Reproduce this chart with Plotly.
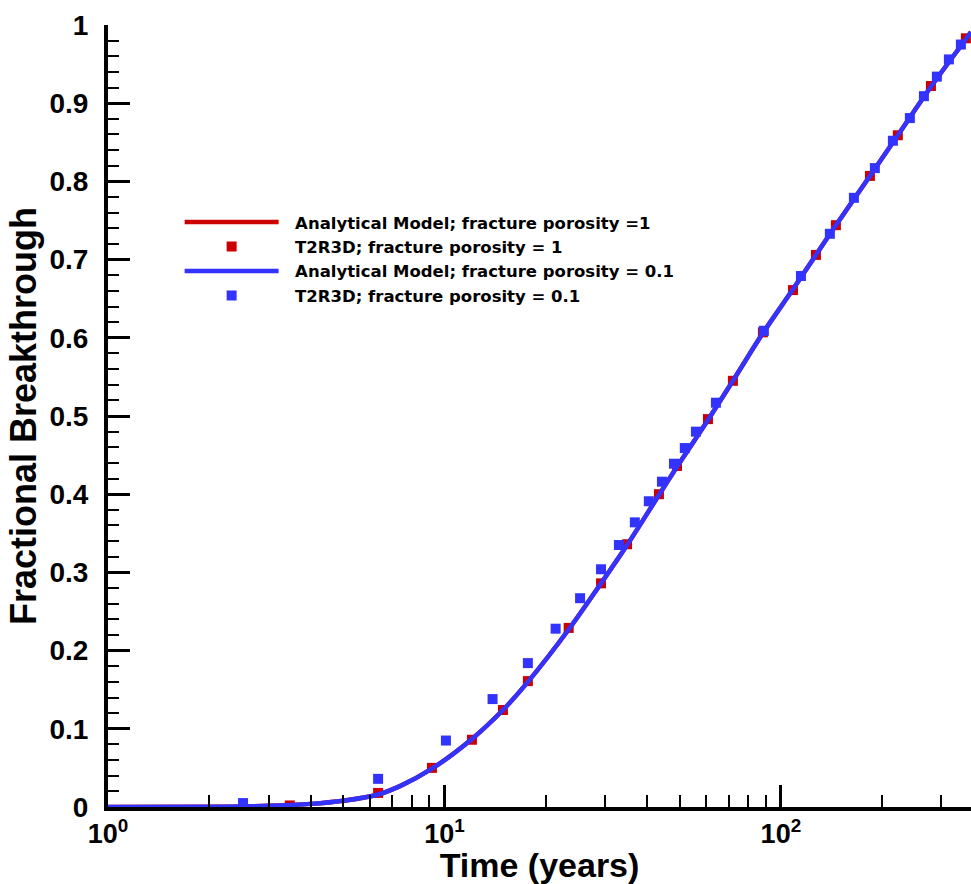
import plotly.graph_objects as go

# Analytical model curves
analytic_t = [1.0, 2.0, 3.0, 4.0, 5.0, 6.35, 7.4, 9.18, 12.07, 14.92, 17.7, 23.4, 29.2,
              34.9, 43.4, 49.1, 60.7, 72.0, 88.4, 108.6, 127.1, 145.7, 183.9, 222.6,
              279.2, 354.6, 367.0]
analytic_phi1 = [0.0, 0.0003, 0.0015, 0.004, 0.008, 0.016, 0.027, 0.049, 0.087, 0.124, 0.160,
                 0.227, 0.286, 0.335, 0.399, 0.435, 0.495, 0.545, 0.606, 0.662, 0.706,
                 0.744, 0.807, 0.859, 0.921, 0.982, 0.991]
analytic_phi01 = [0.0, 0.0003, 0.0015, 0.004, 0.008, 0.016, 0.027, 0.049, 0.087, 0.124, 0.160,
                  0.227, 0.286, 0.335, 0.399, 0.435, 0.495, 0.545, 0.606, 0.662, 0.706,
                  0.744, 0.807, 0.859, 0.921, 0.982, 0.991]

# T2R3D, fracture porosity = 1
t2_phi1_t = [3.47, 6.35, 9.18, 12.07, 14.92, 17.7, 23.4, 29.2, 34.9, 43.4, 49.1, 60.7,
             72.0, 88.4, 108.6, 127.1, 145.7, 183.9, 222.6, 279.2, 354.6]
t2_phi1_y = [0.002, 0.018, 0.050, 0.086, 0.124, 0.161, 0.229, 0.286, 0.336, 0.400, 0.436,
             0.496, 0.545, 0.607, 0.661, 0.706, 0.744, 0.807, 0.859, 0.922, 0.983]

# T2R3D, fracture porosity = 0.1
t2_phi01_t = [2.52, 6.35, 10.1, 13.9, 17.7, 21.4, 25.3, 29.2, 33.0, 36.8, 40.5, 44.3,
              48.1, 51.8, 55.9, 64.1, 89.0, 114.7, 139.8, 164.8, 190.2, 215.2, 241.7,
              266.1, 290.8, 315.7, 342.7]
t2_phi01_y = [0.005, 0.036, 0.085, 0.138, 0.184, 0.228, 0.267, 0.304, 0.335, 0.364, 0.391,
              0.416, 0.439, 0.459, 0.480, 0.517, 0.609, 0.679, 0.733, 0.779, 0.817, 0.852,
              0.881, 0.909, 0.934, 0.956, 0.975]

x_tickvals = [1, 10, 100]
x_ticktext = ["10<sup>0</sup>", "10<sup>1</sup>", "10<sup>2</sup>"]

legend_names = ["Analytical Model; fracture porosity =1",
                "T2R3D; fracture porosity = 1",
                "Analytical Model; fracture porosity = 0.1",
                "T2R3D; fracture porosity = 0.1"]

RED = "#CC0000"
BLUE = "#3333FF"
FONT = "Liberation Sans, Arial, sans-serif"
LEGEND_FONT = "DejaVu Sans, Liberation Sans, Arial, sans-serif"
PAD = "\u00a0\u00a0"

fig = go.Figure()
fig.add_trace(go.Scatter(x=analytic_t, y=analytic_phi1, mode="lines", line_shape="spline",
                         line=dict(color=RED, width=4.5), name=PAD + legend_names[0]))
fig.add_trace(go.Scatter(x=t2_phi1_t, y=t2_phi1_y, mode="markers",
                         marker=dict(symbol="square", size=10, color=RED),
                         name=PAD + legend_names[1]))
fig.add_trace(go.Scatter(x=analytic_t, y=analytic_phi01, mode="lines", line_shape="spline",
                         line=dict(color=BLUE, width=4.5), name=PAD + legend_names[2]))
fig.add_trace(go.Scatter(x=t2_phi01_t, y=t2_phi01_y, mode="markers",
                         marker=dict(symbol="square", size=10, color=BLUE),
                         name=PAD + legend_names[3]))

fig.update_layout(
    width=971, height=884,
    margin=dict(l=108, r=0, t=25, b=77),
    paper_bgcolor="white", plot_bgcolor="white",
    font=dict(family=FONT, color="black"),
    showlegend=True,
    legend=dict(x=0.083, y=0.770, xanchor="left", yanchor="top",
                font=dict(family=LEGEND_FONT, size=16.5, weight="bold", color="black"),
                itemwidth=94, bgcolor="rgba(0,0,0,0)", tracegroupgap=0),
    xaxis=dict(type="log", range=[0, 2.565], showgrid=False, zeroline=False,
               showline=True, linewidth=4, linecolor="black",
               ticks="inside", ticklen=22, tickwidth=3, tickcolor="black",
               tickvals=x_tickvals, ticktext=x_ticktext,
               tickfont=dict(family=FONT, size=27, weight="bold"),
               minor=dict(ticks="inside", ticklen=12, tickwidth=1.5, tickcolor="black",
                          dtick="D1", showgrid=False),
               title=dict(text="Time (years)", font=dict(family=FONT, size=34, weight="bold"),
                          standoff=2),
               automargin=False),
    yaxis=dict(range=[0, 1], dtick=0.1, showgrid=False, zeroline=False,
               showline=True, linewidth=4, linecolor="black",
               ticks="inside", ticklen=22, tickwidth=3, tickcolor="black",
               tickfont=dict(family=FONT, size=28, weight="bold"),
               ticklabelstandoff=10,
               minor=dict(ticks="inside", ticklen=11, tickwidth=1.5, tickcolor="black",
                          dtick=0.02, showgrid=False),
               title=dict(text="Fractional Breakthrough",
                          font=dict(family=FONT, size=36, weight="bold"), standoff=3),
               automargin=False),
)

fig.write_html("out.html")
